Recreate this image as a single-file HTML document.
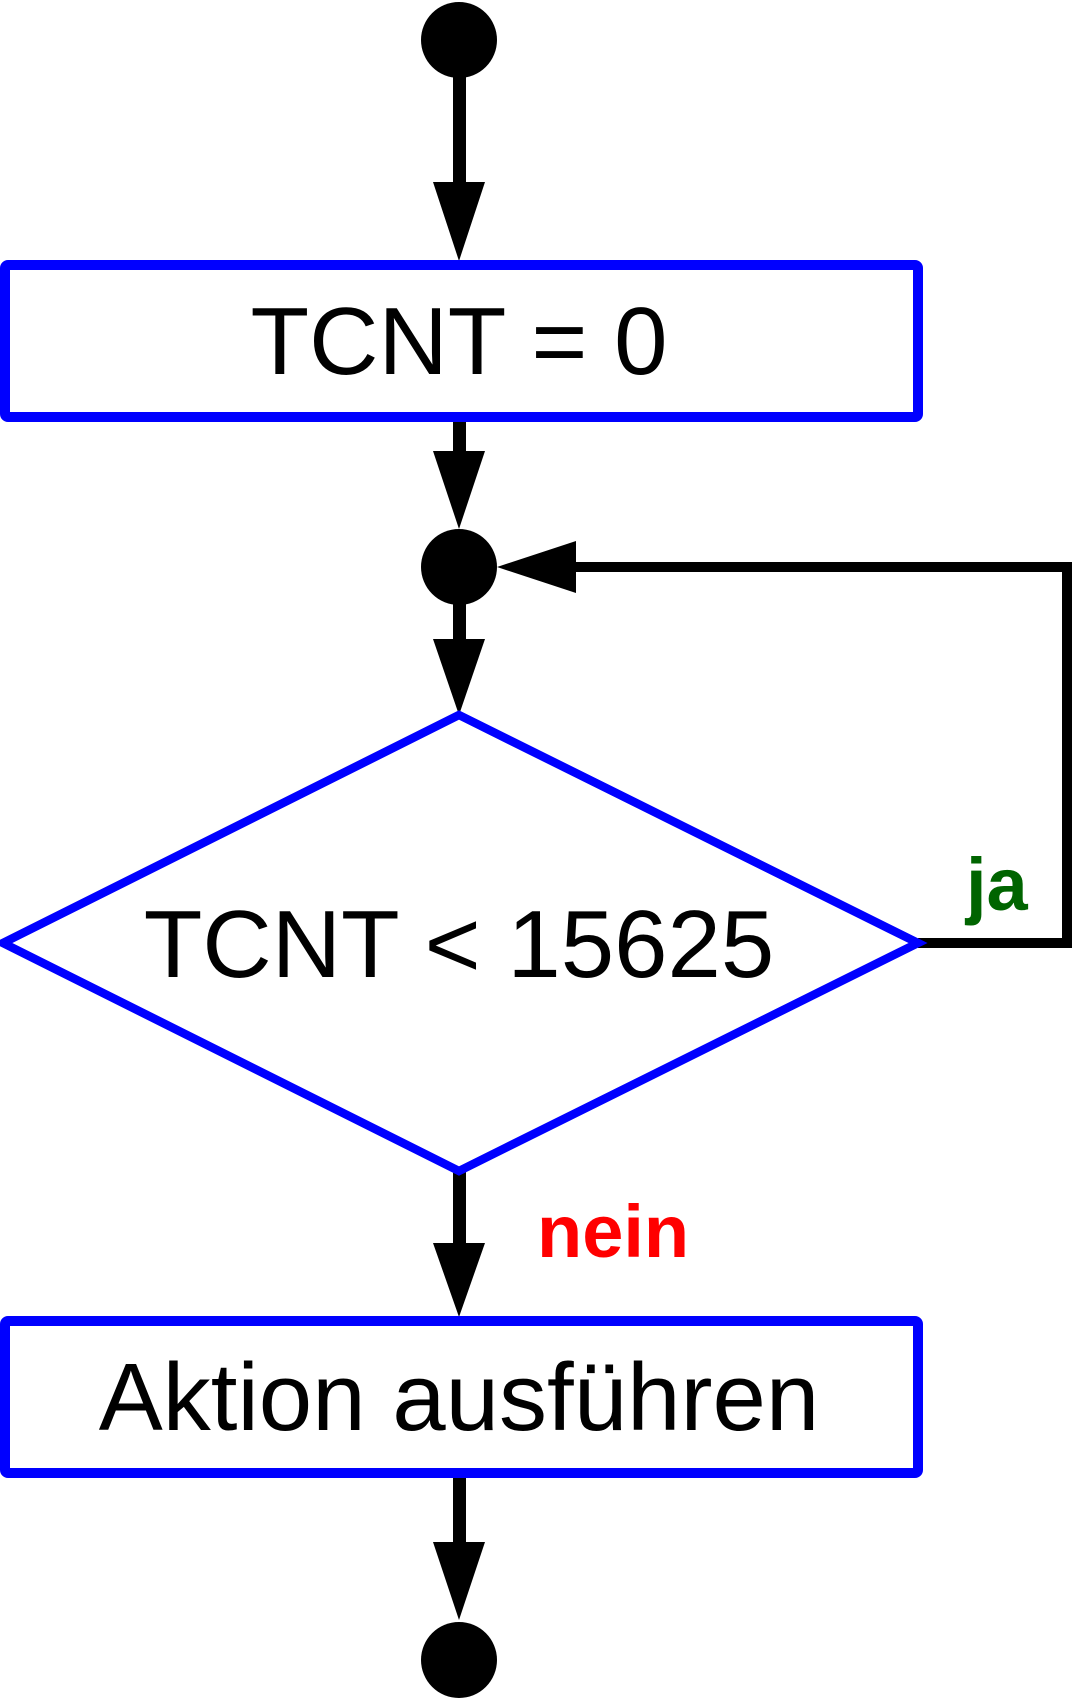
<!DOCTYPE html>
<html><head><meta charset="utf-8"><style>html,body{margin:0;padding:0;background:#fff}svg{display:block}</style></head>
<body>
<svg width="1072" height="1701" viewBox="0 0 1072 1701" xmlns="http://www.w3.org/2000/svg">
<g fill="#000" stroke="none">
<circle cx="459" cy="40" r="38"/>
<rect x="453" y="70" width="13" height="115"/>
<polygon points="433,182 485,182 459,261"/>
<rect x="453" y="417" width="13" height="38"/>
<polygon points="433,451 485,451 459,529"/>
<circle cx="459" cy="567" r="38"/>
<rect x="453" y="600" width="13" height="42"/>
<polygon points="433,639 485,639 459,715"/>
<rect x="453" y="1171" width="13" height="75"/>
<polygon points="433,1243 485,1243 459,1317"/>
<rect x="453" y="1474" width="13" height="70"/>
<polygon points="433,1542 485,1542 459,1620"/>
<circle cx="459" cy="1660" r="38"/>
<polygon points="497,567 576,541 576,593"/>
</g>
<polyline points="918,943 1067,943 1067,567 570,567" fill="none" stroke="#000" stroke-width="10"/>
<rect x="5" y="265" width="913" height="152" rx="3" fill="none" stroke="#0000ff" stroke-width="10"/>
<rect x="5" y="1321" width="913" height="152" rx="3" fill="none" stroke="#0000ff" stroke-width="10"/>
<polygon points="459,715 918,943 459,1171 3,943" fill="none" stroke="#0000ff" stroke-width="8.5"/>
<g font-family="Liberation Sans, sans-serif" text-anchor="middle" fill="#000" font-size="96">
<text x="459" y="374">TCNT = 0</text>
<text x="459" y="977">TCNT &lt; 15625</text>
<text x="459" y="1430">Aktion ausführen</text>
</g>
<text x="966" y="910" font-family="Liberation Sans, sans-serif" font-weight="bold" font-size="74" fill="#006400">ja</text>
<text x="537" y="1257" font-family="Liberation Sans, sans-serif" font-weight="bold" font-size="74" fill="#ff0000">nein</text>
</svg>
</body></html>
